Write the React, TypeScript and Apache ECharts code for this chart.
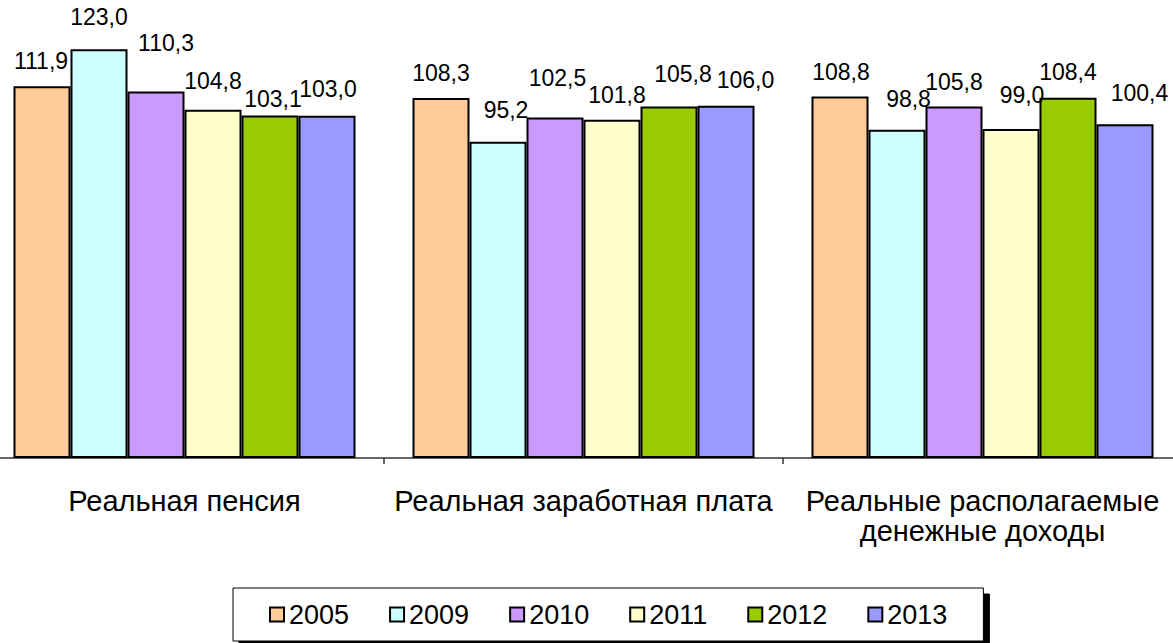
import React, { useEffect, useRef } from "react";
import * as echarts from "echarts";

const categories = [
  "Реальная пенсия",
  "Реальная заработная плата",
  "Реальные располагаемые\nденежные доходы",
];
const years = ["2005", "2009", "2010", "2011", "2012", "2013"];
const v2005 = [111.9, 108.3, 108.8];
const v2009 = [123.0, 95.2, 98.8];
const v2010 = [110.3, 102.5, 105.8];
const v2011 = [104.8, 101.8, 99.0];
const v2012 = [103.1, 105.8, 108.4];
const v2013 = [103.0, 106.0, 100.4];
const seriesValues = [v2005, v2009, v2010, v2011, v2012, v2013];

const colors = ["#FFCC99", "#CCFFFF", "#CC99FF", "#FFFFCC", "#99CC00", "#9999FF"];

// label nudges [dx, dy] (layout only, as placed in the original)
const labelNudges = [
  [[-1, -14], [0, -14], [1, -12.5]],
  [[0, -21], [8, -20], [11.5, -19.5]],
  [[10, -36.5], [2.5, -27.5], [0, -12.5]],
  [[0, -17.5], [5, -13.5], [11, -23]],
  [[3, -4.5], [14, -20.5], [0, -14]],
  [[1, -15], [19.5, -14.5], [14.5, -19.5]],
];

const FONT = "'Liberation Sans', Arial, sans-serif";

export default function App() {
  const ref = useRef<HTMLDivElement>(null);
  useEffect(() => {
    if (!ref.current) return;
    const chart = echarts.init(ref.current, undefined, { renderer: "svg" });
    chart.setOption({
      animation: false,
      backgroundColor: "#ffffff",
      textStyle: { fontFamily: FONT },
      grid: {
        left: -15,
        width: 1197,
        top: 26,
        bottom: 185,
        containLabel: false,
        outerBoundsMode: "none",
      },
      legend: {
        data: years,
        left: 233,
        top: 588,
        padding: [13, 36],
        itemWidth: 14,
        itemHeight: 14,
        itemGap: 40,
        icon: "rect",
        backgroundColor: "#ffffff",
        borderColor: "#000000",
        borderWidth: 1,
        shadowColor: "#000000",
        shadowBlur: 0,
        shadowOffsetX: 6,
        shadowOffsetY: 6,
        itemStyle: { borderColor: "#000", borderWidth: 2 },
        textStyle: { fontSize: 27, color: "#000", fontFamily: FONT },
      },
      xAxis: {
        type: "category",
        data: categories,
        axisLine: { show: true, lineStyle: { color: "#333", width: 1.5 } },
        axisTick: { show: true, length: 6, lineStyle: { color: "#333", width: 1.5 } },
        axisLabel: {
          interval: 0,
          fontSize: 29,
          lineHeight: 30,
          color: "#000",
          margin: 28,
          fontFamily: FONT,
        },
      },
      yAxis: {
        type: "value",
        min: 0,
        max: 130,
        show: false,
        splitLine: { show: false },
      },
      series: seriesValues.map((vals, i) => ({
        name: years[i],
        type: "bar",
        barWidth: 57,
        barGap: "0%",
        itemStyle: { color: colors[i], borderColor: "#000", borderWidth: 2 },
        label: {
          show: true,
          position: "top",
          distance: 0,
          fontSize: 23,
          color: "#000",
          fontFamily: FONT,
          formatter: (p: any) => Number(p.value).toFixed(1).replace(".", ","),
        },
        data: vals.map((v, j) => ({
          value: v,
          label: { offset: labelNudges[i][j] },
        })),
      })),
    });
    return () => chart.dispose();
  }, []);
  return (
    <div
      ref={ref}
      style={{ position: "absolute", left: 0, top: 0, width: 1173, height: 643 }}
    />
  );
}
